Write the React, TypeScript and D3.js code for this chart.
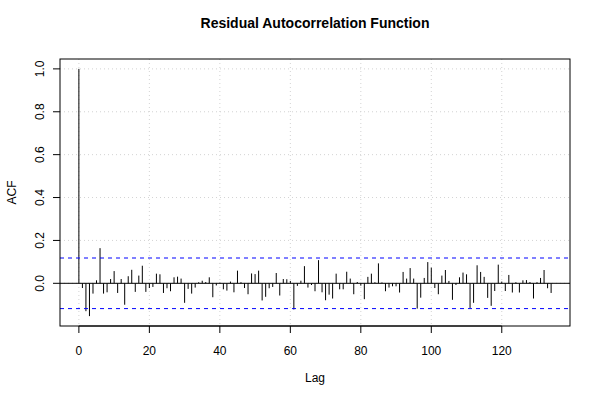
import React from "react";
import * as d3 from "d3";

const lags: number[] = Array.from({ length: 135 }, (_, i) => i);
const acfValues: number[] = [
  1.0, -0.022, -0.13, -0.153, -0.048, 0.014, 0.164, -0.048, -0.042, 0.02,
  0.057, -0.045, 0.02, -0.1, 0.033, 0.063, -0.04, 0.036, 0.082, -0.04,
  -0.022, -0.017, 0.045, 0.042, -0.045, -0.023, -0.037, 0.028, 0.031, 0.022,
  -0.091, -0.026, -0.048, -0.02, 0.005, 0.012, 0.006, 0.028, -0.065, -0.01,
  0.003, -0.028, -0.034, 0.008, -0.042, 0.059, 0.005, -0.022, -0.051, 0.046,
  0.043, 0.059, -0.08, -0.063, -0.023, -0.017, 0.048, -0.057, 0.02, 0.019,
  0.011, -0.122, -0.012, 0.012, 0.08, -0.02, -0.008, -0.037, 0.108, -0.042,
  -0.079, -0.053, -0.071, 0.045, -0.028, -0.028, 0.054, 0.022, -0.051, 0.006,
  -0.011, -0.074, 0.03, 0.045, 0.005, 0.093, 0.004, -0.037, -0.02, -0.014,
  -0.014, -0.043, 0.053, 0.022, 0.071, 0.022, -0.118, -0.067, 0.025, 0.099,
  0.073, -0.022, -0.051, 0.036, 0.062, 0.011, -0.077, -0.008, 0.028, 0.05,
  0.042, -0.115, -0.091, 0.084, 0.053, 0.03, -0.068, -0.105, -0.036, 0.087,
  0.008, -0.036, 0.039, -0.043, 0.005, -0.043, 0.014, 0.015, 0.006, -0.071,
  0.005, 0.025, 0.062, -0.023, -0.045,
];
const ciLevel = 0.118;
const xTicks: number[] = [0, 20, 40, 60, 80, 100, 120];
const yTicks: number[] = [0, 0.2, 0.4, 0.6, 0.8, 1.0];
const titleText = "Residual Autocorrelation Function";
const xLabel = "Lag";
const yLabel = "ACF";

export default function App() {
  const W = 600, H = 400;
  const left = 60, right = 570, top = 59, bottom = 326;
  const maxLag = d3.max(lags) as number;
  const xPad = maxLag * 0.04;
  const x = d3.scaleLinear().domain([-xPad, maxLag + xPad]).range([left, right]);
  const yMin = Math.min(d3.min(acfValues) as number, -ciLevel);
  const yMax = Math.max(d3.max(acfValues) as number, ciLevel);
  const yPad = (yMax - yMin) * 0.04;
  const y = d3.scaleLinear().domain([yMin - yPad, yMax + yPad]).range([bottom, top]);
  const font = "'Liberation Sans', Arial, Helvetica, sans-serif";
  const gridColor = "#d3d3d3";

  return (
    <svg width={W} height={H} style={{ position: "absolute", left: 0, top: 0, background: "#fff" }} fontFamily={font}>
      <rect x={0} y={0} width={W} height={H} fill="#fff" />
      {/* grid */}
      {xTicks.map((t) => (
        <line key={"gx" + t} x1={x(t)} x2={x(t)} y1={top} y2={bottom} stroke={gridColor} strokeDasharray="1 3" />
      ))}
      {yTicks.map((t) => (
        <line key={"gy" + t} x1={left} x2={right} y1={y(t)} y2={y(t)} stroke={gridColor} strokeDasharray="1 3" />
      ))}
      {/* zero line */}
      <line x1={left} x2={right} y1={y(0)} y2={y(0)} stroke="#000" strokeWidth={1} />
      {/* bars */}
      {lags.map((l, i) => (
        <line key={"b" + l} x1={x(l)} x2={x(l)} y1={y(0)} y2={y(acfValues[i])} stroke="#000" strokeWidth={1} />
      ))}
      {/* CI */}
      {[ciLevel, -ciLevel].map((c, i) => (
        <line key={"ci" + i} x1={left} x2={right} y1={y(c)} y2={y(c)} stroke="#0000ff" strokeDasharray="4 4" strokeWidth={1} />
      ))}
      {/* box */}
      <rect x={left} y={top} width={right - left} height={bottom - top} fill="none" stroke="#000" strokeWidth={1} />
      {/* x axis */}
      <line x1={x(xTicks[0])} x2={x(xTicks[xTicks.length - 1])} y1={bottom} y2={bottom} stroke="#000" />
      {xTicks.map((t) => (
        <g key={"xt" + t}>
          <line x1={x(t)} x2={x(t)} y1={bottom} y2={bottom + 7} stroke="#000" />
          <text x={x(t)} y={bottom + 29} textAnchor="middle" fontSize={12}>{t}</text>
        </g>
      ))}
      {/* y axis */}
      {yTicks.map((t) => (
        <g key={"yt" + t}>
          <line x1={left} x2={left - 7} y1={y(t)} y2={y(t)} stroke="#000" />
          <text transform={`translate(${left - 16},${y(t)}) rotate(-90)`} textAnchor="middle" fontSize={12}>{t.toFixed(1)}</text>
        </g>
      ))}
      {/* labels */}
      <text x={(left + right) / 2} y={28} textAnchor="middle" fontSize={14} fontWeight="bold">{titleText}</text>
      <text x={(left + right) / 2} y={382} textAnchor="middle" fontSize={12}>{xLabel}</text>
      <text transform={`translate(16,${(top + bottom) / 2}) rotate(-90)`} textAnchor="middle" fontSize={12}>{yLabel}</text>
    </svg>
  );
}
